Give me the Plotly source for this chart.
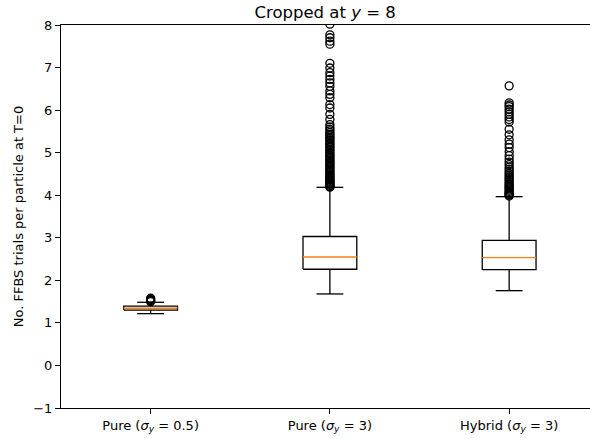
import plotly.graph_objects as go

# ---- data ----
categories = ["Pure (<i>σ<sub>y</sub></i> = 0.5)", "Pure (<i>σ<sub>y</sub></i> = 3)", "Hybrid (<i>σ<sub>y</sub></i> = 3)"]
positions = [1, 2, 3]
q1 = [1.30, 2.26, 2.25]
median = [1.343, 2.55, 2.533]
q3 = [1.395, 3.03, 2.94]
lower_whisker = [1.217, 1.68, 1.757]
upper_whisker = [1.484, 4.186, 3.966]

outliers_1 = [1.50, 1.52, 1.53, 1.55, 1.56, 1.58]
outliers_2 = [8.02, 7.77, 7.70, 7.62, 7.55, 7.10, 6.99, 6.88, 6.80, 6.72, 6.64, 6.56,
              6.45, 6.37, 6.29, 6.13, 6.05, 5.90, 5.78, 5.66, 5.60, 5.55, 5.51, 5.47,
              5.43, 5.40, 5.36, 5.33, 5.30, 5.26, 5.22, 5.19, 5.15, 5.12, 5.08, 5.05,
              5.01, 4.98, 4.95, 4.92, 4.89, 4.86, 4.83, 4.80, 4.77, 4.74, 4.71, 4.68,
              4.65, 4.62, 4.59, 4.56, 4.53, 4.50, 4.47, 4.45, 4.42, 4.40, 4.37, 4.35,
              4.33, 4.31, 4.29, 4.27, 4.25, 4.23, 4.21, 4.20, 4.19]
outliers_3 = [6.57, 6.17, 6.12, 6.08, 6.02, 5.96, 5.90, 5.84, 5.78, 5.72, 5.55, 5.42,
              5.30, 5.20, 5.12, 5.02, 4.93, 4.85, 4.78, 4.72, 4.66, 4.61, 4.56, 4.51,
              4.47, 4.43, 4.39, 4.35, 4.31, 4.27, 4.24, 4.21, 4.18, 4.15, 4.12, 4.09,
              4.06, 4.04, 4.02, 4.00, 3.98]
outliers = [outliers_1, outliers_2, outliers_3]

y_ticks = list(range(-1, 9))
box_width = 0.3
cap_width = box_width / 2

FONT = "DejaVu Sans"
fig = go.Figure()

for i, pos in enumerate(positions):
    h, c = box_width / 2, cap_width / 2
    # box outline
    fig.add_trace(go.Scatter(
        x=[pos - h, pos + h, pos + h, pos - h, pos - h],
        y=[q1[i], q1[i], q3[i], q3[i], q1[i]],
        mode="lines", line=dict(color="black", width=1.3),
        showlegend=False, hoverinfo="skip",
    ))
    # whiskers and caps
    fig.add_trace(go.Scatter(
        x=[pos, pos, None, pos - c, pos + c, None, pos, pos, None, pos - c, pos + c],
        y=[q1[i], lower_whisker[i], None, lower_whisker[i], lower_whisker[i], None,
           q3[i], upper_whisker[i], None, upper_whisker[i], upper_whisker[i]],
        mode="lines", line=dict(color="black", width=1.3),
        showlegend=False, hoverinfo="skip",
    ))
    # median
    fig.add_trace(go.Scatter(
        x=[pos - h, pos + h], y=[median[i], median[i]],
        mode="lines", line=dict(color="#ff7f0e", width=1.4),
        showlegend=False, hoverinfo="skip",
    ))
    # fliers
    fig.add_trace(go.Scatter(
        x=[pos] * len(outliers[i]), y=outliers[i], mode="markers",
        marker=dict(symbol="circle-open", size=8, color="black", line=dict(width=1.3)),
        showlegend=False, hoverinfo="skip",
    ))

fig.update_layout(
    width=590, height=439,
    margin=dict(l=61, r=0, t=25, b=31),
    paper_bgcolor="white", plot_bgcolor="white",
    font=dict(family=FONT, size=13, color="black"),
    title=dict(text="Cropped at <i>y</i> = 8", x=0.551, xanchor="center",
               y=1 - 12 / 439, yanchor="middle", font=dict(size=16.5)),
    xaxis=dict(
        range=[0.5, 3.451], tickmode="array", tickvals=positions, ticktext=categories,
        showgrid=False, zeroline=False, showline=True, linecolor="black", linewidth=1,
        mirror=True, ticks="outside", ticklen=5, tickwidth=1, tickcolor="black",
        tickfont=dict(size=13),
    ),
    yaxis=dict(
        range=[-1, 8], tickmode="array", tickvals=y_ticks,
        showgrid=False, zeroline=False, showline=True, linecolor="black", linewidth=1,
        ticks="outside", ticklen=5, tickwidth=1, tickcolor="black",
        tickfont=dict(size=13),
        title=dict(text="No. FFBS trials per particle at T=0", standoff=6,
                   font=dict(size=13)),
    ),
)

fig.write_html("out.html")
